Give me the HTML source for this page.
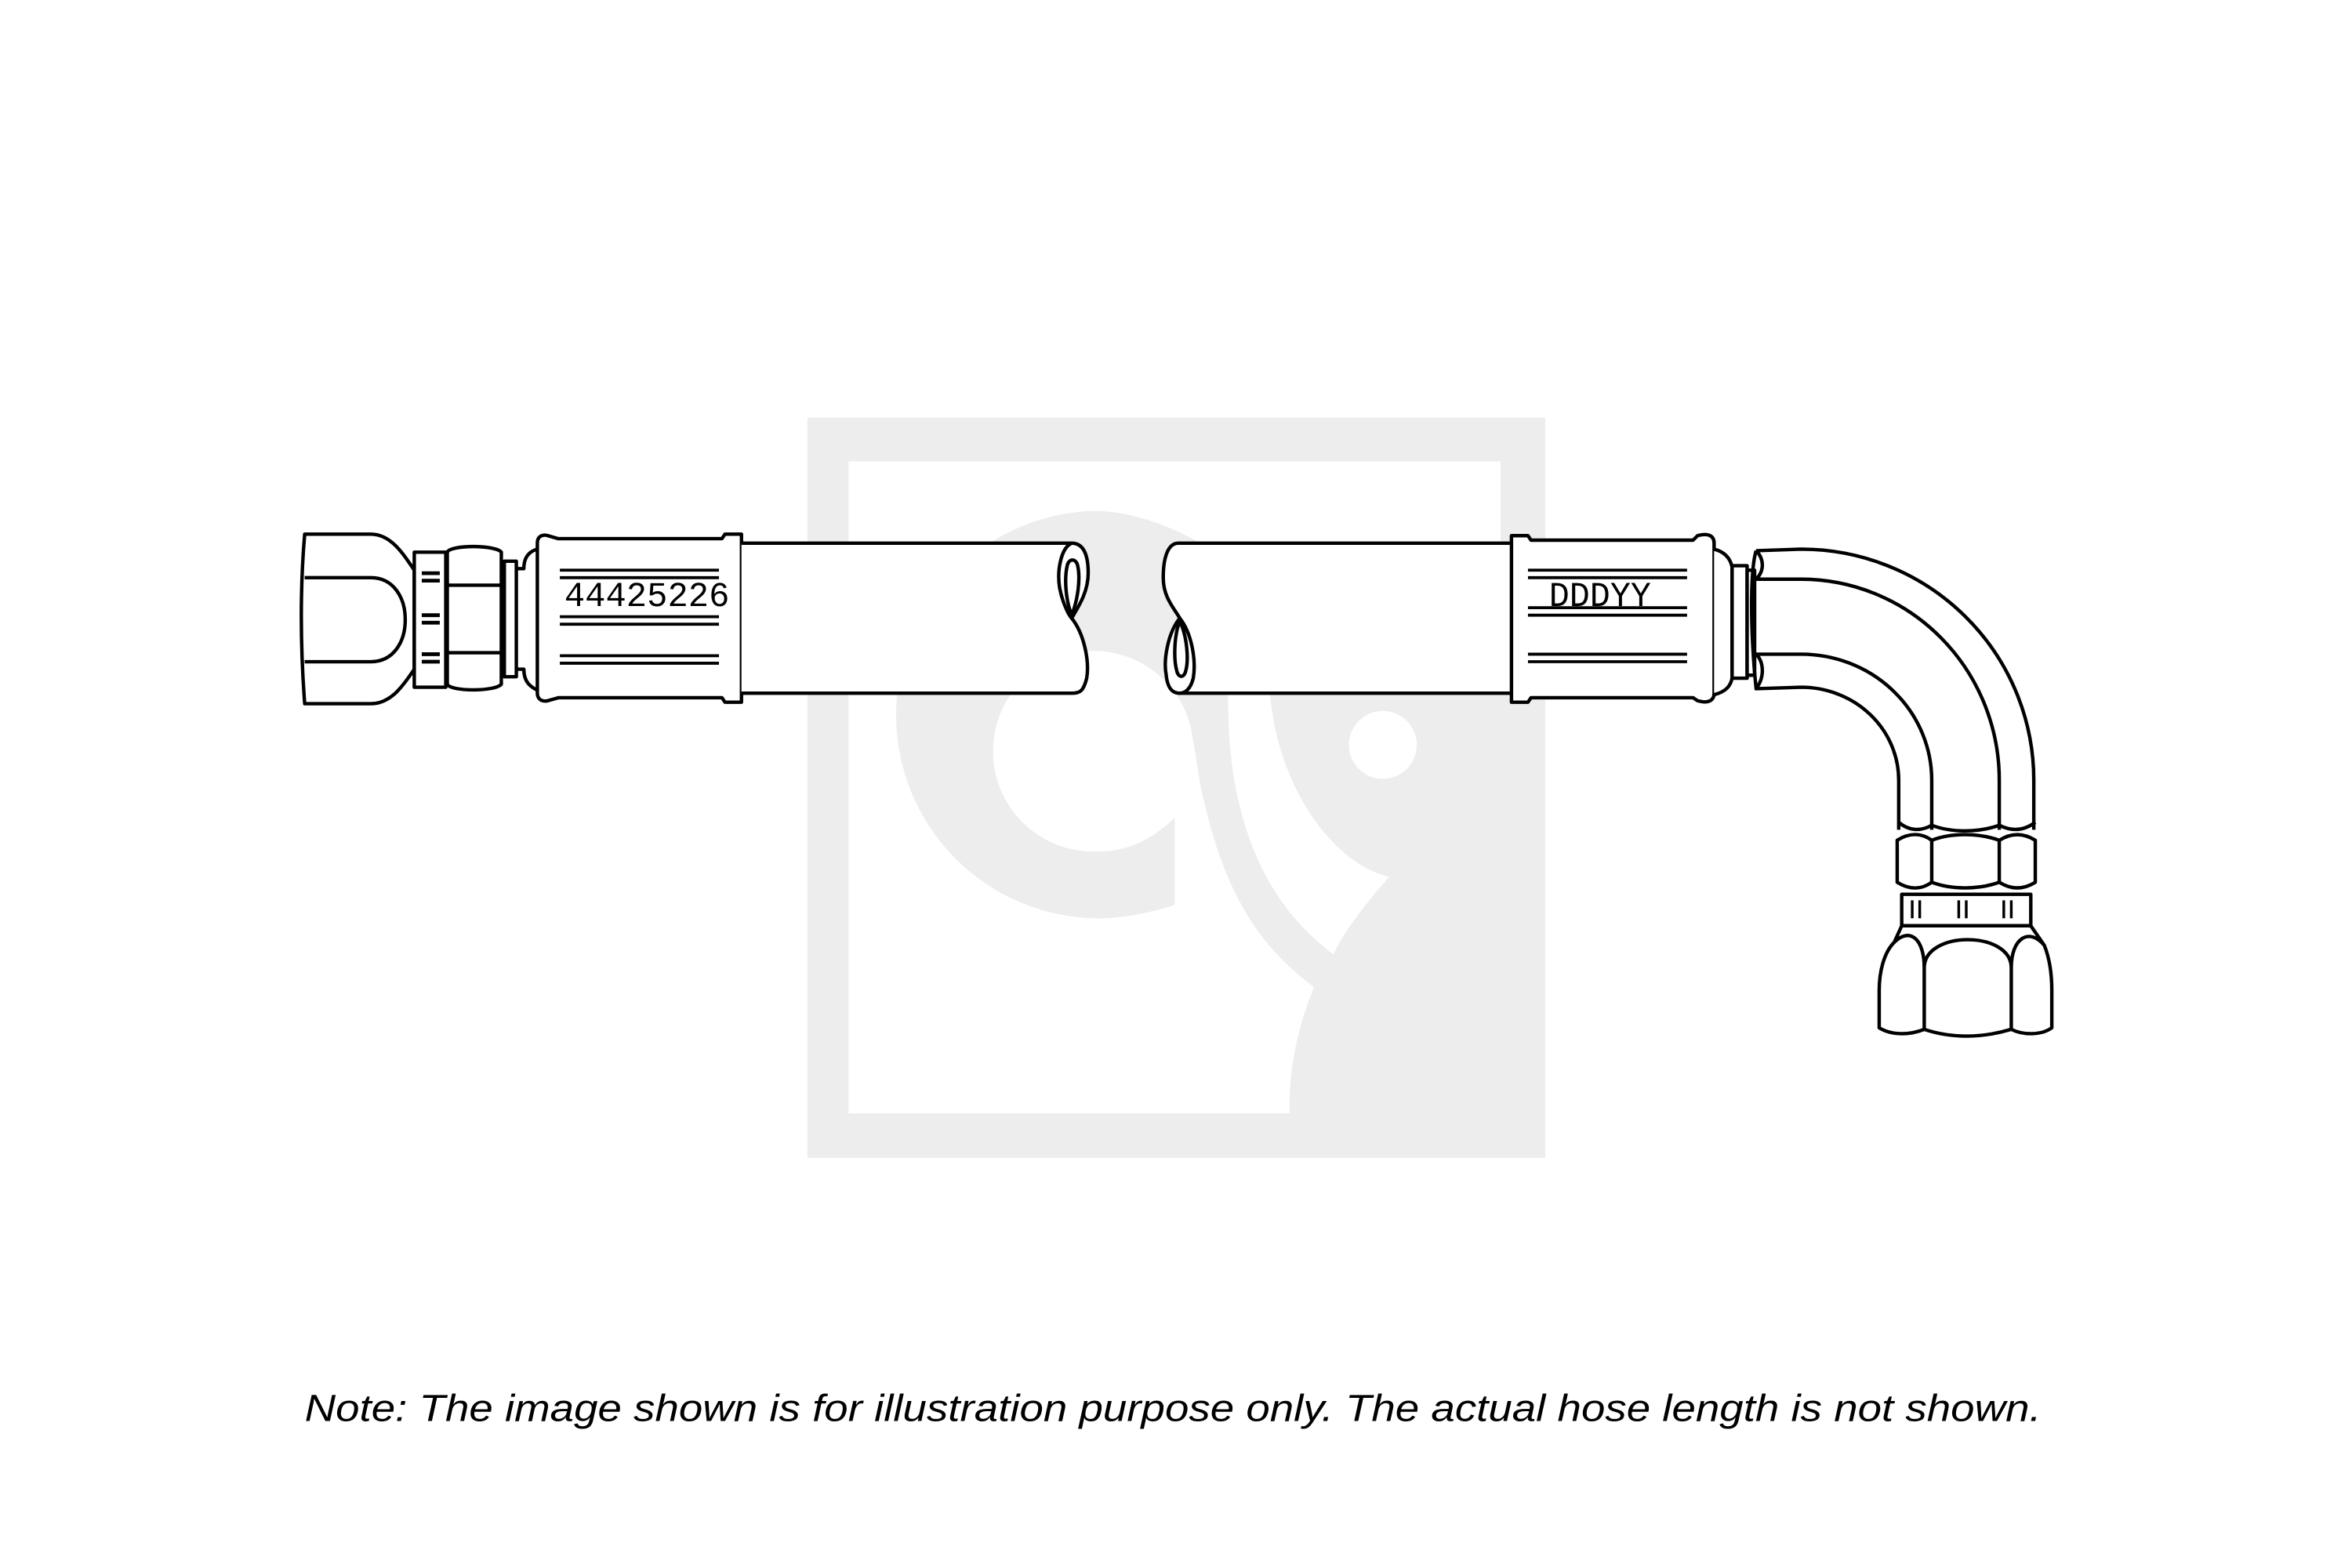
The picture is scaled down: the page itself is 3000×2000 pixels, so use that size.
<!DOCTYPE html>
<html><head><meta charset="utf-8"><style>
html,body{margin:0;padding:0;background:#fff;}
svg{display:block;}
</style></head><body>
<svg width="3000" height="2000" viewBox="0 0 1567 1045" preserveAspectRatio="none" xmlns="http://www.w3.org/2000/svg">
<!-- watermark -->
<g transform="translate(537.9,276.8) scale(0.323)">
<rect x="0" y="5" width="1522" height="1527" fill="#ededed"/>
<path d="M85,95 L1430,95 L1430,420 C1340,470 1250,465 1250,465 C1100,465 980,380 980,380 L900,320 C800,250 700,200 595,197 A420 420 0 0 0 183,617 A420 420 0 0 0 598,1038 C680,1038 758,1010 758,1010 L758,830 C700,885 650,900 595,900 A207 207 0 1 1 790,640 C800,690 810,760 810,760 C850,950 910,1080 1045,1180 C1000,1290 993,1380 995,1440 L85,1440 Z" fill="#fff"/>
<path d="M868,600 C865,520 880,495 905,495 C930,495 945,510 948,535 L960,620 C990,800 1100,930 1200,952 C1150,1010 1110,1060 1085,1112 C960,1020 870,860 868,600 Z" fill="#fff"/>
<circle cx="1187" cy="680" r="70" fill="#fff"/>
</g>
<g fill="none" stroke="#000" stroke-width="2.3" stroke-linejoin="round">
<!-- left nut -->
<path d="M203 356 C200 390 200 430 203 469 L247 469 C260 469 268 458 276 446 L276 380 C268 368 260 356 247 356 Z" fill="#fff"/>
<path d="M203 385 L247 385 C262 385 270 398 270 413 C270 428 262 441 247 441 L203 441"/>
<!-- collar -->
<rect x="276" y="368" width="21" height="90" fill="#fff"/>
<path d="M281 382h12M281 387h12M281 410h12M281 415h12M281 436h12M281 441h12" stroke-width="2.5"/>
<!-- hex2 -->
<path d="M298 368 L298 456 C300 461 330 461 334 456 L334 368 C330 363 300 363 298 368 Z" fill="#fff"/>
<path d="M298 390 L334 390 M298 435 L334 435"/>
<!-- ring -->
<rect x="336" y="374" width="8" height="77" fill="#fff"/>
<path d="M344 379 L349 379 C349 370 354 367 358 366 M344 446 L349 446 C349 455 354 458 358 460"/>
<!-- left ferrule -->
<path d="M358 362 C358 357 362 356 365 357 L372 359 L481 359 L483 356 L494 356 L494 468 L483 468 L481 465 L372 465 L365 467 C360 468 358 465 358 462 Z" fill="#fff"/>
<path d="M373 380h106M373 385h106M373 411h106M373 416h106M373 437h106M373 442h106" stroke-width="2"/>
<!-- left hose -->
<path d="M494 362 L714 362 C722 362 725 370 725 382 C725 395 718 405 714 412 C722 422 726 440 724 452 C722 460 720 462 714 462 L494 462" fill="#fff"/>
<path d="M714 362 C707 365 704 380 706 392 C708 402 712 410 714 412 M714 410 C710 400 709 386 711 377 C712 372 717 372 718 377 C720 386 718 400 714 410"/>
<!-- right hose -->
<path d="M1007 362 L785 362 C778 362 775 372 775 385 C775 398 782 405 786 412 C778 422 775 440 777 450 C778 460 782 462 786 462 L1007 462" fill="#fff"/>
<path d="M786 412 C794 422 797 440 795 452 C793 460 789 462 786 462 M786 414 C782 424 782 440 784 447 C785 452 789 452 790 447 C792 440 791 424 786 414"/>
<!-- right ferrule -->
<path d="M1007 357 L1018 357 L1020 360 L1128 360 L1131 357 C1138 355 1142 357 1142 362 L1142 462 C1142 467 1138 469 1131 467 L1128 465 L1020 465 L1018 468 L1007 468 Z" fill="#fff"/>
<path d="M1018 380h106M1018 385h106M1018 405h106M1018 410h106M1018 436h106M1018 441h106" stroke-width="2"/>
<!-- right ring -->
<path d="M1142 366 C1150 368 1153 373 1154 378 L1154 452 C1153 457 1150 461 1142 463" fill="#fff"/>
<rect x="1154" y="377" width="10" height="75" fill="#fff"/>
<rect x="1164" y="380" width="5" height="70" fill="#fff"/>
<!-- elbow -->
<path d="M1170 367 L1200 366 A155 154 0 0 1 1355 520 L1355 553"/>
<path d="M1170 367 C1166 380 1166 420 1170 459 L1200 458 A65 62 0 0 1 1265 520 L1265 553"/>
<path d="M1170 386 L1200 386 A132 134 0 0 1 1332 520 L1332 553 M1170 436 L1200 436 A87 84 0 0 1 1287 520 L1287 553"/>
<path d="M1170 367 C1175 372 1176 380 1170 386 M1170 436 C1175 441 1176 451 1170 459"/>
<path d="M1265 548 C1272 554 1280 554 1287 550 C1300 555 1318 555 1332 550 C1340 554 1348 554 1356 548"/>
<!-- hex below -->
<path d="M1264 560 C1272 555 1280 555 1287 560 C1300 555 1318 555 1332 560 C1340 555 1348 555 1356 560 L1356 588 C1348 593 1340 593 1332 588 C1318 593 1300 593 1287 588 C1280 593 1272 593 1264 588 Z" fill="#fff"/>
<path d="M1287 560 L1287 588 M1332 560 L1332 588"/>
<!-- collar below -->
<rect x="1267" y="596" width="86" height="21" fill="#fff"/>
<path d="M1274 600v12M1279 600v12M1305 600v12M1310 600v12M1335 600v12M1340 600v12" stroke-width="1.8"/>
<!-- bottom nut -->
<path d="M1267 617 L1353 617 L1362 630 C1366 640 1367 650 1367 660 L1367 685 C1360 690 1348 690 1340 686 C1320 692 1300 692 1282 686 C1272 690 1260 690 1252 685 L1252 660 C1252 648 1255 635 1262 628 Z" fill="#fff"/>
<path d="M1262 628 C1272 618 1282 625 1282 645 L1282 686 M1340 686 L1340 645 C1340 625 1352 618 1362 630 M1282 645 C1282 620 1340 620 1340 645"/>
</g>
<text x="376" y="404" font-family="Liberation Mono, monospace" font-size="23" textLength="110" lengthAdjust="spacingAndGlyphs">44425226</text>
<text x="1032" y="404" font-family="Liberation Mono, monospace" font-size="23" textLength="68" lengthAdjust="spacingAndGlyphs">DDDYY</text>
<text x="203" y="947" font-family="Liberation Sans, sans-serif" font-style="italic" font-size="25" textLength="1157" lengthAdjust="spacingAndGlyphs">Note: The image shown is for illustration purpose only. The actual hose length is not shown.</text>
</svg>
</body></html>
